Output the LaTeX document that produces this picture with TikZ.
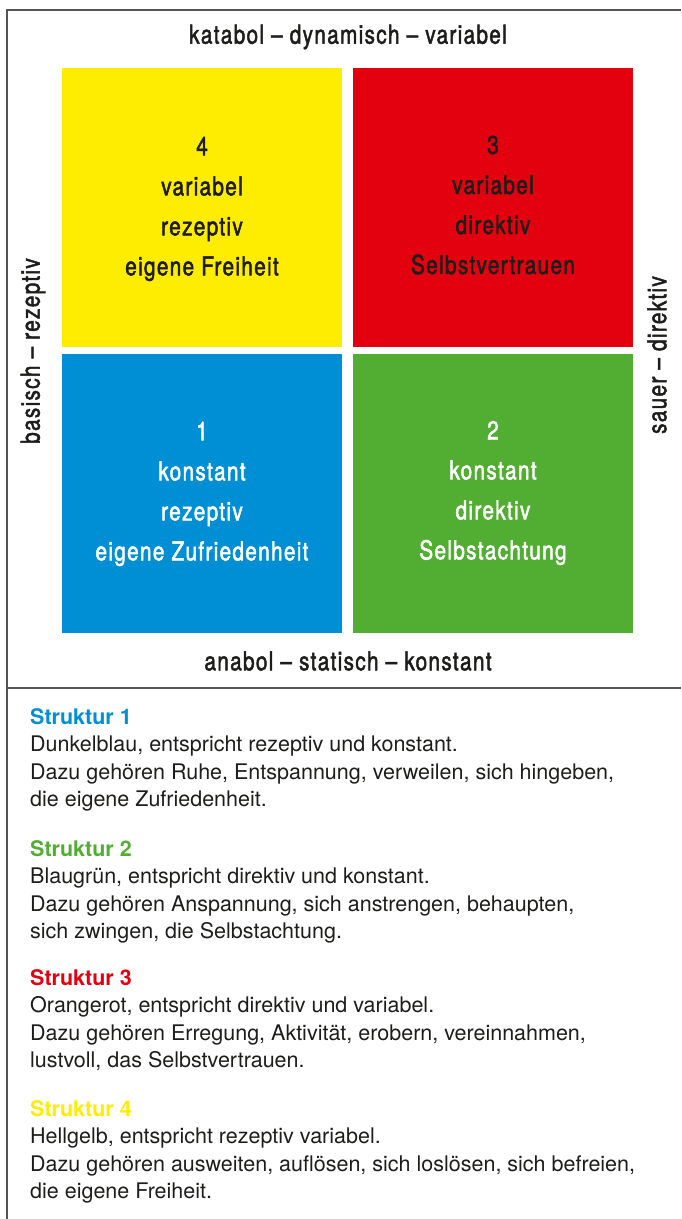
\documentclass[tikz,border=0pt]{standalone}
\usepackage{fontspec}
\setmainfont{TeX Gyre Heros}
\newfontfamily\condfont[FakeStretch=0.8,LetterSpace=5,FakeBold=1.8]{TeX Gyre Heros}

\definecolor{quadyellow}{HTML}{FFED00}
\definecolor{quadred}{HTML}{E3000F}
\definecolor{quadblue}{HTML}{008FD5}
\definecolor{quadgreen}{HTML}{52AE32}
\definecolor{inkdark}{HTML}{1D1D1B}
\definecolor{framegray}{HTML}{555555}

\begin{document}
\begin{tikzpicture}[x=1pt, y=-1pt,
    quad/.style={rectangle, minimum width=280pt, minimum height=279pt, inner sep=0pt,
        align=center, font=\condfont\fontsize{26}{40}\selectfont},
    axislabel/.style={inner sep=0pt, text=inkdark, font=\condfont\fontsize{26}{28}\selectfont},
    legend/.style={anchor=north west, align=left, inner sep=0pt, text=inkdark,
        font=\fontsize{21.5}{27.5}\selectfont}]
    \useasboundingbox (0,0) rectangle (681,1219);

    % Define the centres of the texts in the squares
    \coordinate (C4) at (202,209);
    \coordinate (C3) at (493,205);
    \coordinate (C1) at (202,494);
    \coordinate (C2) at (493,493);

    % Frame and divider
    \draw[framegray, line width=1.3pt] (681,10) -- (7,10) -- (7,1219);
    \draw[framegray, line width=1.3pt] (7,688) -- (681,688);

    % The four squares
    \node[quad, fill=quadyellow] (q4) at (202,207.5) {};
    \node[quad, fill=quadred] (q3) at (493,207.5) {};
    \node[quad, fill=quadblue] (q1) at (202,493) {};
    \node[quad, fill=quadgreen] (q2) at (493,493) {};

    % Texts inside the squares
    \node[quad, minimum height=0pt, text=inkdark] (t4) at (C4) {4\\variabel\\rezeptiv\\eigene Freiheit};
    \node[quad, minimum height=0pt, text=inkdark] (t3) at (C3) {3\\variabel\\direktiv\\Selbstvertrauen};
    \node[quad, minimum height=0pt, text=white] (t1) at (C1) {1\\konstant\\rezeptiv\\eigene Zufriedenheit};
    \node[quad, minimum height=0pt, text=white] (t2) at (C2) {2\\konstant\\direktiv\\Selbstachtung};

    % Axis labels round the squares
    \node[axislabel] (katabol) at (348,37) {katabol – dynamisch – variabel};
    \node[axislabel] (anabol) at (348,661) {anabol – statisch – konstant};
    \node[axislabel, rotate=90] (basisch) at (33,351) {basisch – rezeptiv};
    \node[axislabel, rotate=90] (sauer) at (657,355) {sauer – direktiv};

    % Legend below the divider
    \node[legend] (s1) at (30,708) {{\bfseries\color{quadblue}Struktur 1}\\
        Dunkelblau, entspricht rezeptiv und konstant.\\
        Dazu gehören Ruhe, Entspannung, verweilen, sich hingeben,\\
        die eigene Zufriedenheit.};
    \node[legend] (s2) at (30,840) {{\bfseries\color{quadgreen}Struktur 2}\\
        Blaugrün, entspricht direktiv und konstant.\\
        Dazu gehören Anspannung, sich anstrengen, behaupten,\\
        sich zwingen, die Selbstachtung.};
    \node[legend] (s3) at (30,969) {{\bfseries\color{quadred}Struktur 3}\\
        Orangerot, entspricht direktiv und variabel.\\
        Dazu gehören Erregung, Aktivität, erobern, vereinnahmen,\\
        lustvoll, das Selbstvertrauen.};
    \node[legend] (s4) at (30,1100) {{\bfseries\color{quadyellow}Struktur 4}\\
        Hellgelb, entspricht rezeptiv variabel.\\
        Dazu gehören ausweiten, auflösen, sich loslösen, sich befreien,\\
        die eigene Freiheit.};
\end{tikzpicture}
\end{document}
